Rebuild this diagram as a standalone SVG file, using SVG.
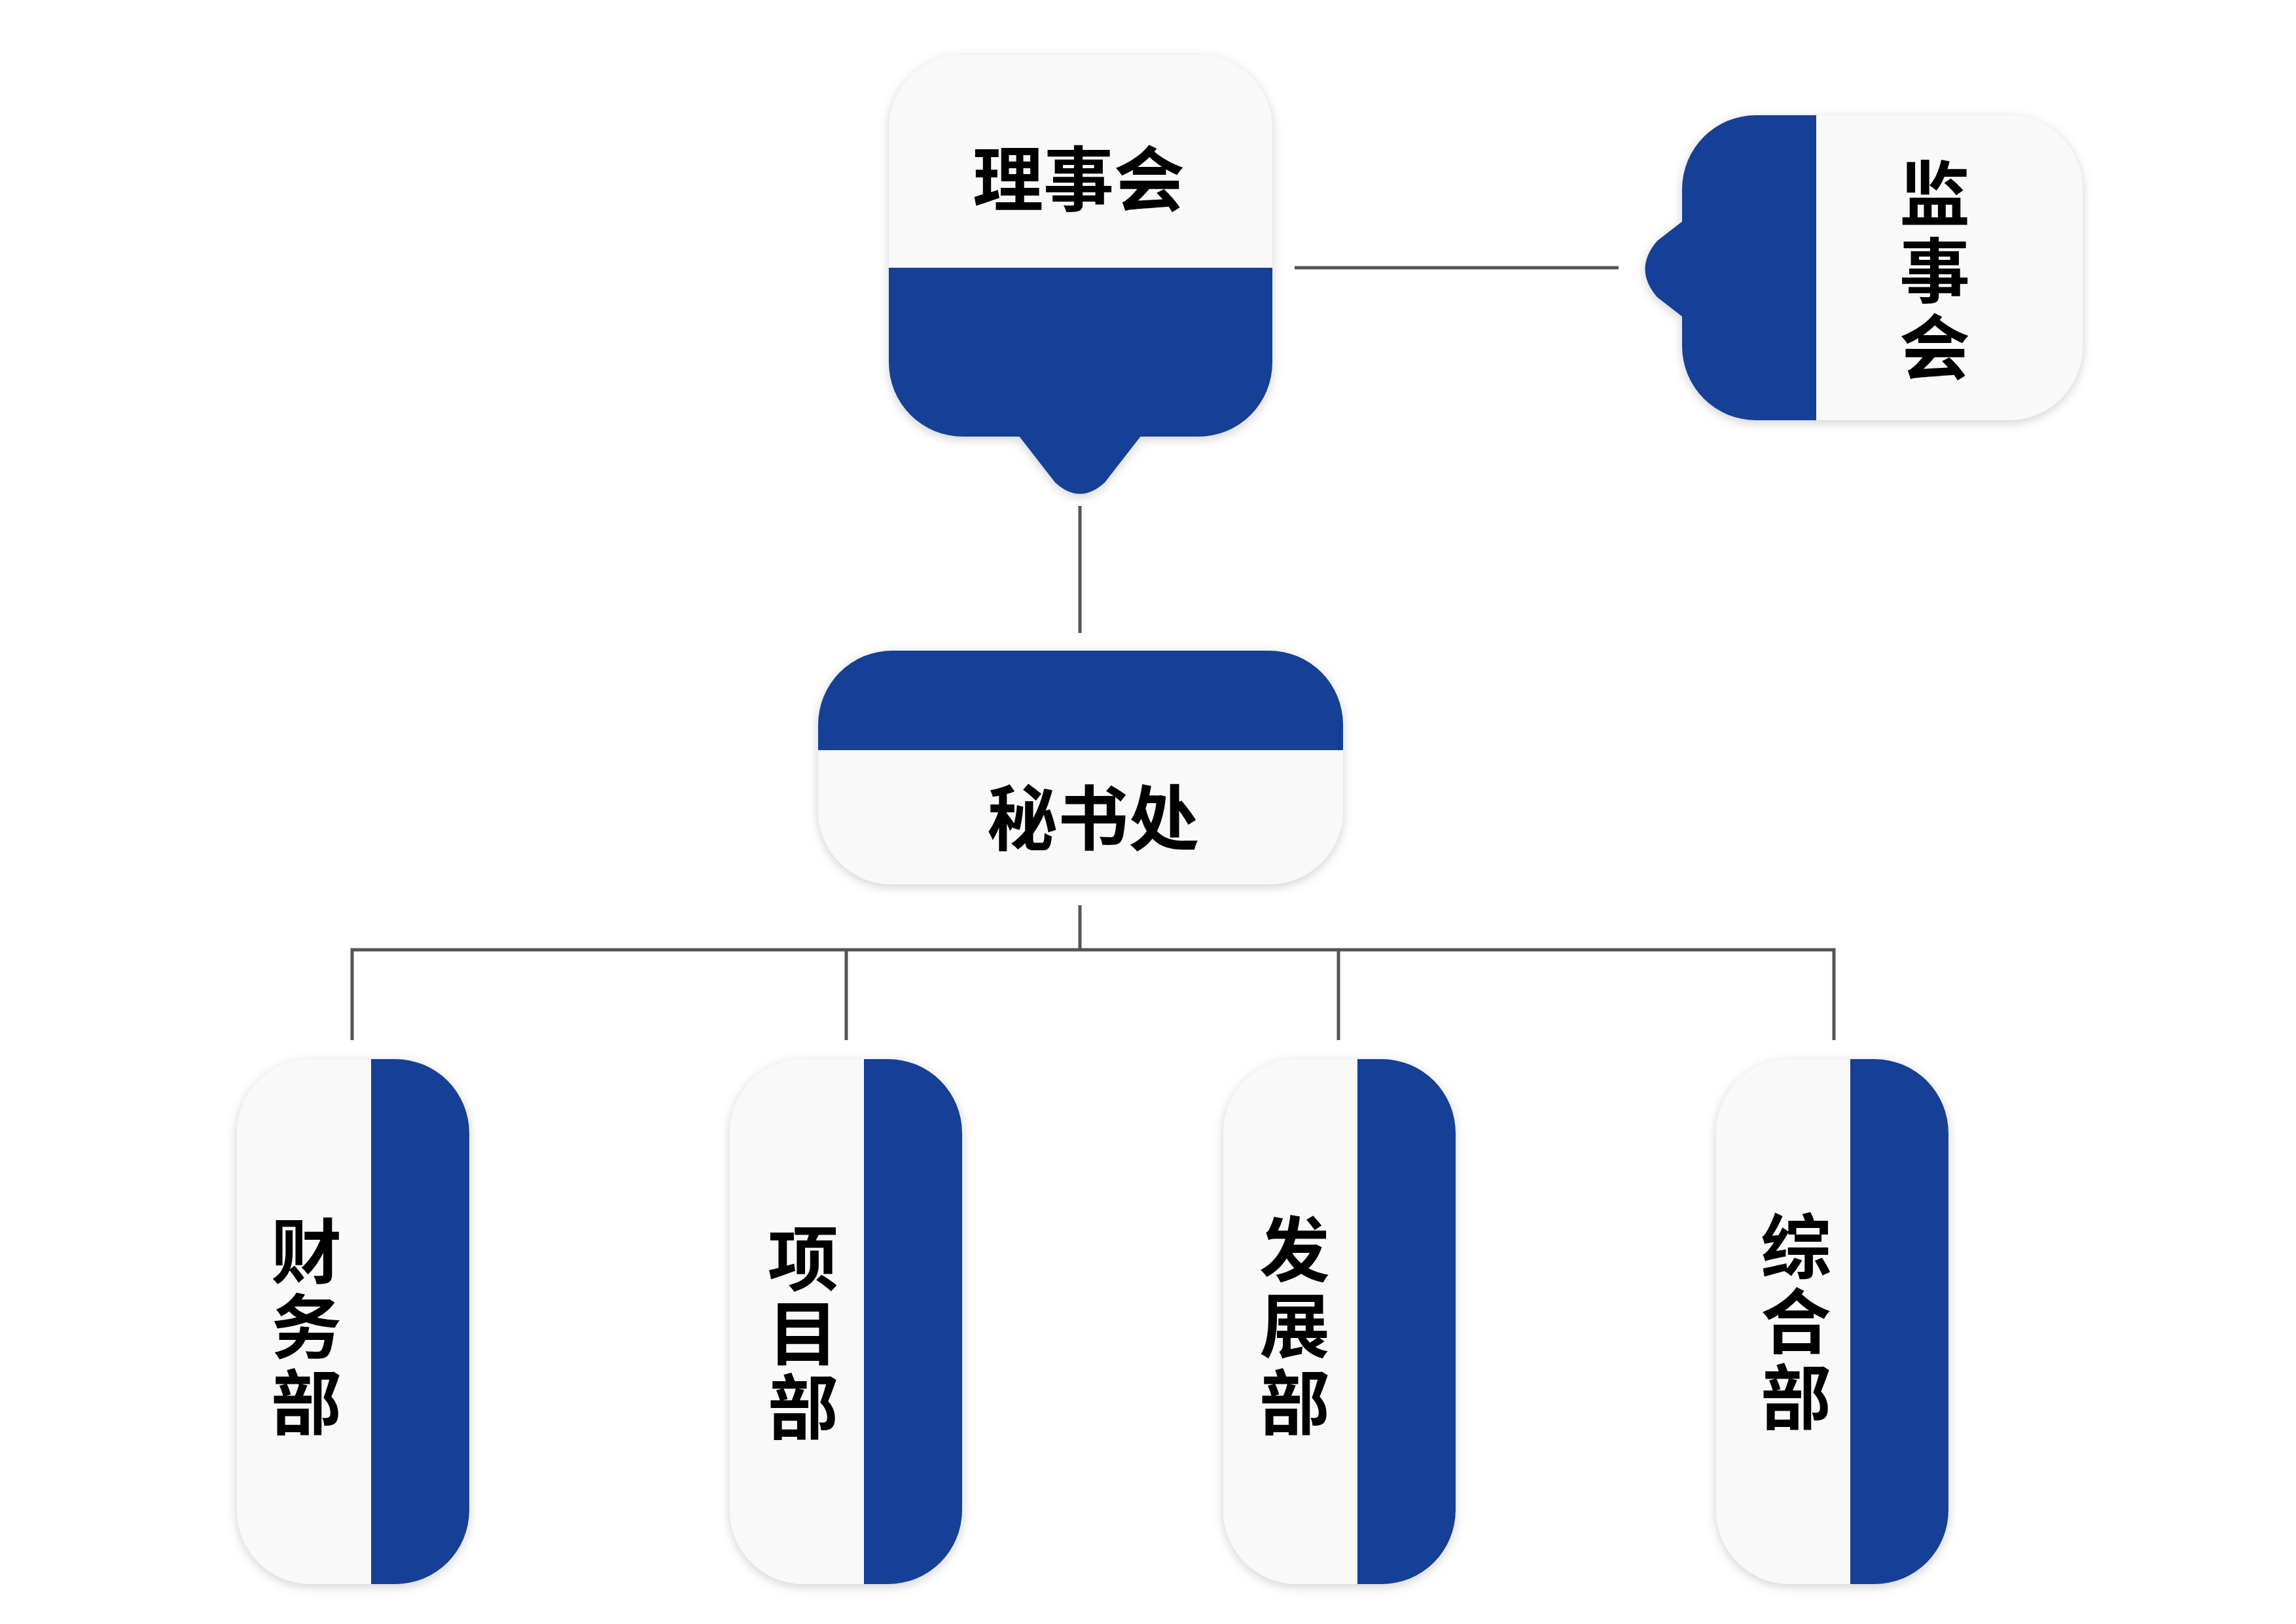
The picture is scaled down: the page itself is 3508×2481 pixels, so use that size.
<svg xmlns="http://www.w3.org/2000/svg" width="3508" height="2481" viewBox="0 0 3508 2481">
<style>
.card{fill:#f9f9f9}
.blue{fill:#173f95}
.t{font-family:"Noto Sans CJK SC",sans-serif;font-weight:bold;font-size:108px;fill:#000;text-anchor:middle;dominant-baseline:central}
.ln{stroke:#555;stroke-width:5;fill:none}
</style>
<defs>
<filter id="sh" x="-20%" y="-20%" width="140%" height="140%"><feDropShadow dx="0" dy="4" stdDeviation="8" flood-color="#000" flood-opacity="0.18"/></filter>
<clipPath id="c1"><rect x="1358" y="84" width="586" height="583" rx="113"/></clipPath>
<clipPath id="c2"><rect x="2570" y="176" width="612" height="466" rx="113"/></clipPath>
<clipPath id="c3"><rect x="1250" y="994" width="802" height="357" rx="113"/></clipPath>
<clipPath id="b1"><rect x="362" y="1618" width="355" height="802" rx="113"/></clipPath>
<clipPath id="b2"><rect x="1115" y="1618" width="355" height="802" rx="113"/></clipPath>
<clipPath id="b3"><rect x="1869" y="1618" width="355" height="802" rx="113"/></clipPath>
<clipPath id="b4"><rect x="2622" y="1618" width="355" height="802" rx="113"/></clipPath>
</defs>
<g id="connectors">
<line class="ln" x1="1978" y1="409" x2="2473" y2="409"/>
<line class="ln" x1="1650" y1="773" x2="1650" y2="967"/>
<line class="ln" x1="1650" y1="1383" x2="1650" y2="1451"/>
<polyline class="ln" points="538,1589 538,1451 2802,1451 2802,1589"/>
<line class="ln" x1="1293" y1="1451" x2="1293" y2="1589"/>
<line class="ln" x1="2045" y1="1451" x2="2045" y2="1589"/>
</g>
<g id="lishihui" filter="url(#sh)">
<rect class="card" x="1358" y="84" width="586" height="583" rx="113"/>
<rect class="blue" x="1358" y="409" width="586" height="260" clip-path="url(#c1)"/>
<path class="blue" d="M1556,665 L1612,737 Q1650,772 1688,737 L1744,665 Z"/>
<text class="t" x="1648" y="267">理事会</text>
</g>
<g id="jianshihui" filter="url(#sh)">
<rect class="card" x="2570" y="176" width="612" height="466" rx="113"/>
<rect class="blue" x="2570" y="176" width="205" height="466" clip-path="url(#c2)"/>
<path class="blue" d="M2572,337 L2532,368 Q2495,411 2532,454 L2572,485 Z"/>
<text class="t" x="2956" y="289">监</text>
<text class="t" x="2956" y="407">事</text>
<text class="t" x="2956" y="524">会</text>
</g>
<g id="mishuchu" filter="url(#sh)">
<rect class="card" x="1250" y="994" width="802" height="357" rx="113"/>
<rect class="blue" x="1250" y="994" width="802" height="152" clip-path="url(#c3)"/>
<text class="t" x="1670" y="1243">秘书处</text>
</g>
<g id="caiwubu" filter="url(#sh)">
<rect class="card" x="362" y="1618" width="355" height="802" rx="113"/>
<rect class="blue" x="567" y="1618" width="150" height="802" clip-path="url(#b1)"/>
<text class="t" x="468" y="1905">财</text><text class="t" x="468" y="2020">务</text><text class="t" x="468" y="2136">部</text>
</g>
<g id="xiangmubu" filter="url(#sh)">
<rect class="card" x="1115" y="1618" width="355" height="802" rx="113"/>
<rect class="blue" x="1320" y="1618" width="150" height="802" clip-path="url(#b2)"/>
<text class="t" x="1227" y="1916">项</text><text class="t" x="1227" y="2030">目</text><text class="t" x="1227" y="2143">部</text>
</g>
<g id="fazhanbu" filter="url(#sh)">
<rect class="card" x="1869" y="1618" width="355" height="802" rx="113"/>
<rect class="blue" x="2074" y="1618" width="150" height="802" clip-path="url(#b3)"/>
<text class="t" x="1978" y="1902">发</text><text class="t" x="1978" y="2018">展</text><text class="t" x="1978" y="2136">部</text>
</g>
<g id="zonghebu" filter="url(#sh)">
<rect class="card" x="2622" y="1618" width="355" height="802" rx="113"/>
<rect class="blue" x="2827" y="1618" width="150" height="802" clip-path="url(#b4)"/>
<text class="t" x="2744" y="1898">综</text><text class="t" x="2744" y="2012">合</text><text class="t" x="2744" y="2128">部</text>
</g>
</svg>
